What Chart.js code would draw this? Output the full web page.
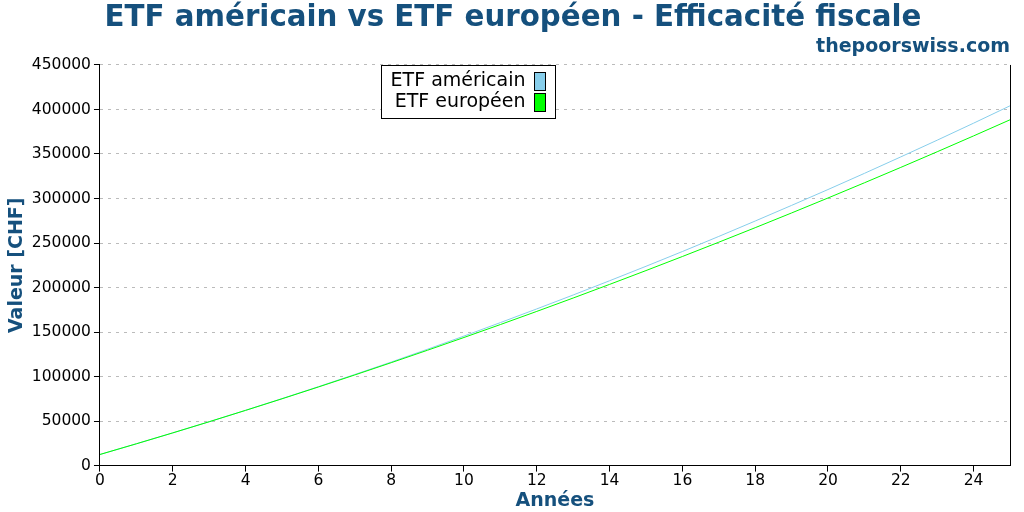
<!DOCTYPE html>
<html>
<head>
<meta charset="utf-8">
<script src="https://cdn.jsdelivr.net/npm/chart.js@4"></script>
<style>
  body { margin: 0; background: #fff; }
  #wrap { width: 1024px; height: 512px; }
</style>
</head>
<body>
<div id="wrap"><canvas id="myChart" width="1024" height="512"></canvas></div>
<script>
// valeurs (CHF, par année)
var annees = [0, 1, 2, 3, 4, 5, 6, 7, 8, 9, 10, 11, 12, 13, 14, 15, 16, 17, 18, 19, 20, 21, 22, 23, 24, 25];
var etfAmericain = [12500, 24500, 36750, 49260, 62120, 75230, 88600, 102310, 116280, 130710, 145490, 160620, 176000,
  191630, 207620, 223860, 240460, 257410, 274710, 292260, 310070, 328230, 346740, 365510, 384630, 404100];
var etfEuropeen = [12500, 24500, 36750, 49260, 62020, 75030, 88300, 101810, 115580, 129610, 143890, 158420, 173200,
  188230, 203520, 219060, 234860, 250910, 267210, 283760, 300570, 317630, 334940, 352510, 370330, 388400];
var seriesNames = ['ETF américain', 'ETF européen'];
var seriesColors = ['#87ceeb', '#00ff00'];

var bleu = '#15507d';
var police = 'DejaVu Sans';

function points(vals) {
  return annees.map(function (a, i) { return { x: a, y: vals[i] }; });
}

// cadre à droite + légende façon gnuplot
var extras = {
  id: 'extras',
  afterLayout: function (chart) {
    // centrer le titre sur la page
    if (chart.titleBlock) {
      chart.titleBlock.left += 5;
      chart.titleBlock.right += 5;
    }
  },
  afterDraw: function (chart) {
    var ctx = chart.ctx;
    var area = chart.chartArea;
    ctx.save();
    ctx.strokeStyle = '#000';
    ctx.lineWidth = 1;
    ctx.beginPath();
    ctx.moveTo(Math.round(area.right) + 0.5, area.top);
    ctx.lineTo(Math.round(area.right) + 0.5, area.bottom);
    ctx.stroke();

    var bx = Math.round(area.left) + 281.5, by = Math.round(area.top) + 0.5;
    var bw = 174, bh = 53;
    ctx.fillStyle = '#fff';
    ctx.fillRect(bx, by, bw, bh);
    ctx.strokeRect(bx, by, bw, bh);
    ctx.font = '19px "' + police + '"';
    ctx.textAlign = 'right';
    ctx.textBaseline = 'middle';
    for (var i = 0; i < seriesNames.length; i++) {
      var cy = by + 16 + i * 21;
      ctx.fillStyle = '#000';
      ctx.fillText(seriesNames[i], bx + 144, cy);
      ctx.fillStyle = seriesColors[i];
      ctx.fillRect(bx + 153, cy - 9, 11, 18);
      ctx.strokeStyle = '#000';
      ctx.strokeRect(bx + 153, cy - 9, 11, 18);
    }
    ctx.restore();
  }
};

var ctx = document.getElementById('myChart').getContext('2d');
var myChart = new Chart(ctx, {
  type: 'line',
  data: {
    datasets: [{
      label: seriesNames[0],
      data: points(etfAmericain),
      borderColor: seriesColors[0],
      borderWidth: 1,
      pointRadius: 0,
      tension: 0,
      fill: false,
      order: 1
    }, {
      label: seriesNames[1],
      data: points(etfEuropeen),
      borderColor: seriesColors[1],
      borderWidth: 1,
      pointRadius: 0,
      tension: 0,
      fill: false,
      order: 0
    }]
  },
  plugins: [extras],
  options: {
    responsive: false,
    animation: false,
    layout: { padding: { left: 6, right: 14, top: 1, bottom: 0 } },
    plugins: {
      legend: { display: false },
      tooltip: { enabled: false },
      title: {
        display: true,
        text: 'ETF américain vs ETF européen - Efficacité fiscale',
        color: bleu,
        font: { family: police, size: 29.3, weight: 'bold' },
        padding: { top: 0, bottom: 0 }
      },
      subtitle: {
        display: true,
        text: 'thepoorswiss.com',
        align: 'end',
        color: bleu,
        font: { family: police, size: 19, weight: 'bold' },
        padding: { top: 0, bottom: 6 }
      }
    },
    scales: {
      x: {
        type: 'linear',
        min: 0,
        max: 25,
        afterBuildTicks: function (scale) {
          scale.ticks = scale.ticks.filter(function (t) { return t.value % 2 === 0; });
        },
        ticks: { stepSize: 2, color: '#000', font: { family: police, size: 15.5 }, padding: 0, maxRotation: 0 },
        grid: { drawOnChartArea: false, tickLength: 6, tickColor: '#000' },
        border: { color: '#000', width: 1 },
        title: {
          display: true,
          text: 'Années',
          color: bleu,
          font: { family: police, size: 19, weight: 'bold' },
          padding: { top: -1, bottom: 0 }
        }
      },
      y: {
        min: 0,
        max: 450000,
        ticks: {
          stepSize: 50000, color: '#000', font: { family: police, size: 15.5 }, padding: 3,
          callback: function (v) { return String(v); }
        },
        grid: { color: '#bbbbbb', tickLength: 6, tickColor: '#000' },
        border: { color: '#000', width: 1, dash: [3, 5] },
        title: {
          display: true,
          text: 'Valeur [CHF]',
          color: bleu,
          font: { family: police, size: 19, weight: 'bold' },
          padding: { top: 0, bottom: 0 }
        }
      }
    }
  }
});
</script>
</body>
</html>
